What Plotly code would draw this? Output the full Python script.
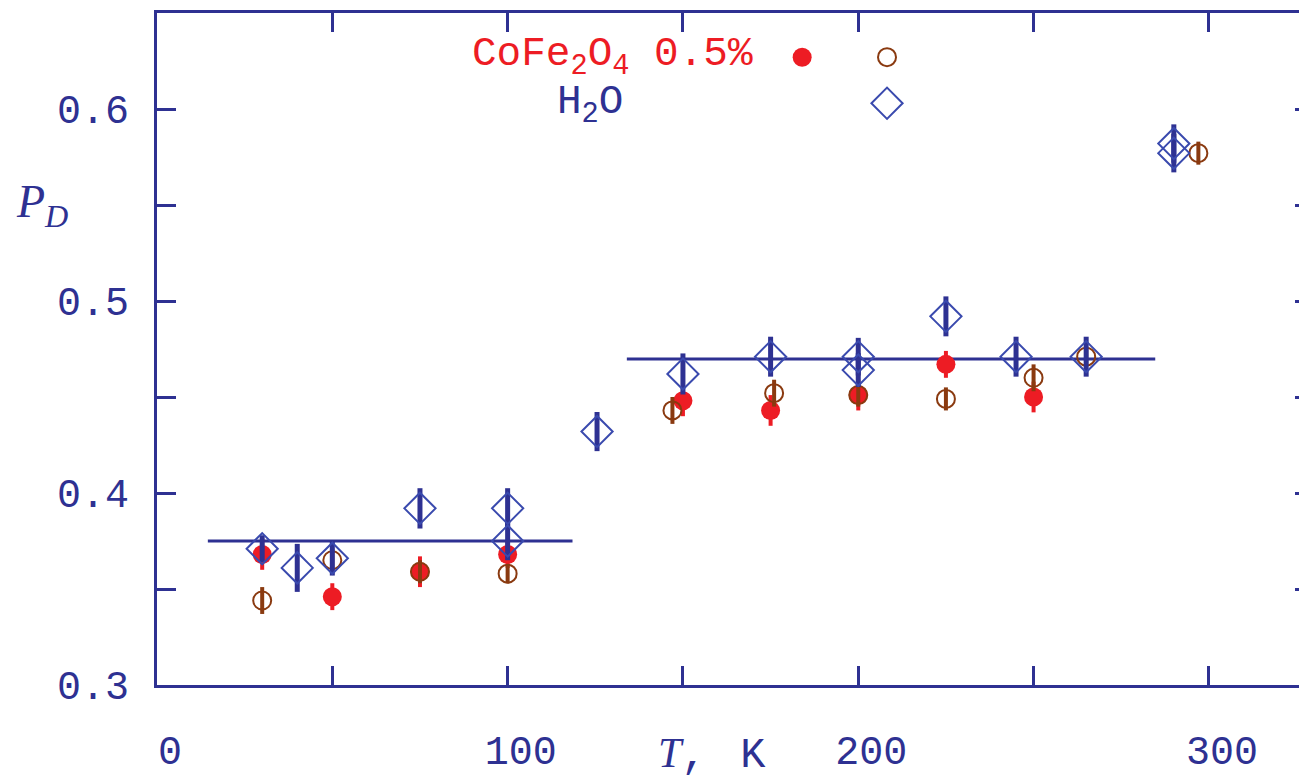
import plotly.graph_objects as go

# ---- data (T in K, P_D) ----
h2o_T   = [30, 40, 50, 75, 100, 100, 125.5, 150, 175, 200, 200, 225, 245, 265, 290, 290]
h2o_P   = [0.371, 0.361, 0.366, 0.392, 0.392, 0.375, 0.432, 0.462, 0.471, 0.471, 0.464, 0.492, 0.471, 0.471, 0.582, 0.577]
h2o_err = [0.007, 0.0125, 0.009, 0.0105, 0.0105, 0.01, 0.0102, 0.0107, 0.0104, 0.0098, 0.0088, 0.0104, 0.0104, 0.0104, 0.01, 0.01]

cofe_T   = [30, 50, 75, 100, 150, 175, 200, 225, 250]
cofe_P   = [0.368, 0.346, 0.359, 0.368, 0.448, 0.443, 0.451, 0.467, 0.450]
cofe_err = [0.008, 0.007, 0.008, 0.007, 0.008, 0.008, 0.008, 0.007, 0.008]

open_T   = [30, 50, 75, 100, 147, 176, 200, 225, 250, 265, 297]
open_P   = [0.344, 0.365, 0.359, 0.358, 0.443, 0.452, 0.451, 0.449, 0.460, 0.471, 0.577]
open_err = [0.007, 0.006, 0.006, 0.005, 0.007, 0.007, 0.006, 0.006, 0.007, 0.004, 0.006]

# mean levels (horizontal lines)
line1_T = [14.5, 118.5]
line1_P = [0.375, 0.375]
line2_T = [134, 284.7]
line2_P = [0.4698, 0.4698]

# key symbols
key_filled_T, key_filled_P = [184], [0.627]
key_open_T, key_open_P = [208.2], [0.627]
key_dia_T, key_dia_P = [208.2], [0.603]

BLUE = "#2E3192"
DBLUE = "#3A4AAE"
RED = "#ED1C24"
BROWN = "#8A3A10"
MONO = "Liberation Mono"
SERIF = "Liberation Serif"

fig = go.Figure()

fig.add_trace(go.Scatter(x=line1_T, y=line1_P, mode="lines",
                         line=dict(color=BLUE, width=3), showlegend=False))
fig.add_trace(go.Scatter(x=line2_T, y=line2_P, mode="lines",
                         line=dict(color=BLUE, width=3), showlegend=False))

fig.add_trace(go.Scatter(x=cofe_T, y=cofe_P, mode="markers",
                         marker=dict(symbol="circle", size=19, color=RED, line=dict(width=0)),
                         error_y=dict(type="data", array=cofe_err, color=RED, thickness=4, width=0),
                         showlegend=False))
fig.add_trace(go.Scatter(x=open_T, y=open_P, mode="markers",
                         marker=dict(symbol="circle-open", size=18, color=BROWN, line=dict(width=2, color=BROWN)),
                         error_y=dict(type="data", array=open_err, color=BROWN, thickness=4, width=0),
                         showlegend=False))
fig.add_trace(go.Scatter(x=h2o_T, y=h2o_P, mode="markers",
                         marker=dict(symbol="diamond-open", size=24, color=DBLUE, line=dict(width=2, color=DBLUE)),
                         error_y=dict(type="data", array=h2o_err, color=BLUE, thickness=5, width=0),
                         showlegend=False))

# key symbols
fig.add_trace(go.Scatter(x=key_filled_T, y=key_filled_P, mode="markers",
                         marker=dict(symbol="circle", size=19, color=RED), showlegend=False))
fig.add_trace(go.Scatter(x=key_open_T, y=key_open_P, mode="markers",
                         marker=dict(symbol="circle-open", size=18, color=BROWN, line=dict(width=2, color=BROWN)),
                         showlegend=False))
fig.add_trace(go.Scatter(x=key_dia_T, y=key_dia_P, mode="markers",
                         marker=dict(symbol="diamond-open", size=24, color=DBLUE, line=dict(width=2, color=DBLUE)),
                         showlegend=False))

fig.add_annotation(x=170.5, y=0.627, xref="x", yref="y", xanchor="right", yanchor="middle",
                   text="CoFe<sub>2</sub>O<sub>4</sub> 0.5%", showarrow=False,
                   font=dict(family=MONO, size=41, color=RED))
fig.add_annotation(x=133.5, y=0.602, xref="x", yref="y", xanchor="right", yanchor="middle",
                   text="H<sub>2</sub>O", showarrow=False,
                   font=dict(family=MONO, size=41, color=BLUE))

# axis titles
fig.add_annotation(x=-0.125, y=0.715, xref="paper", yref="paper", xanchor="left", yanchor="middle",
                   text="<i>P</i><sub><i>D</i></sub>", showarrow=False,
                   font=dict(family=SERIF, size=46, color=BLUE))
fig.add_annotation(x=0.437, y=-0.1443, xref="paper", yref="paper", xanchor="left", yanchor="bottom",
                   text="<i>T</i><span style='font-family:Liberation Mono'>,&#8201; K</span>",
                   showarrow=False, font=dict(family=SERIF, size=42, color=BLUE))

tickstyle = dict(ticks="inside", ticklen=19, tickwidth=3, tickcolor=BLUE)

fig.update_layout(
    width=1299, height=782,
    margin=dict(l=157, r=0, t=13, b=97),
    paper_bgcolor="white", plot_bgcolor="white",
    xaxis=dict(range=[0, 325.7], tick0=0, dtick=100, **tickstyle,
               minor=dict(dtick=50, tick0=0, **tickstyle),
               showline=True, linewidth=3, linecolor=BLUE, mirror="ticks",
               showgrid=False, zeroline=False,
               tickfont=dict(family=MONO, size=40, color=BLUE),
               ticklabelstandoff=28, ticklabelshift=13),
    yaxis=dict(range=[0.3, 0.65], tick0=0.3, dtick=0.1, tickformat=".1f", **tickstyle,
               minor=dict(dtick=0.05, tick0=0.3, **tickstyle),
               showline=True, linewidth=3, linecolor=BLUE, mirror=False,
               showgrid=False, zeroline=False,
               tickfont=dict(family=MONO, size=40, color=BLUE),
               ticklabelstandoff=17),
    yaxis2=dict(range=[0.3, 0.65], overlaying="y", side="right", anchor="x",
                tick0=0.3, dtick=0.05, ticks="inside", ticklen=4, tickwidth=3, tickcolor=BLUE,
                showticklabels=False, showline=False, showgrid=False, zeroline=False),
)

fig.add_trace(go.Scatter(x=[None], y=[None], yaxis="y2", showlegend=False, hoverinfo="skip"))

fig.write_html("out.html")
